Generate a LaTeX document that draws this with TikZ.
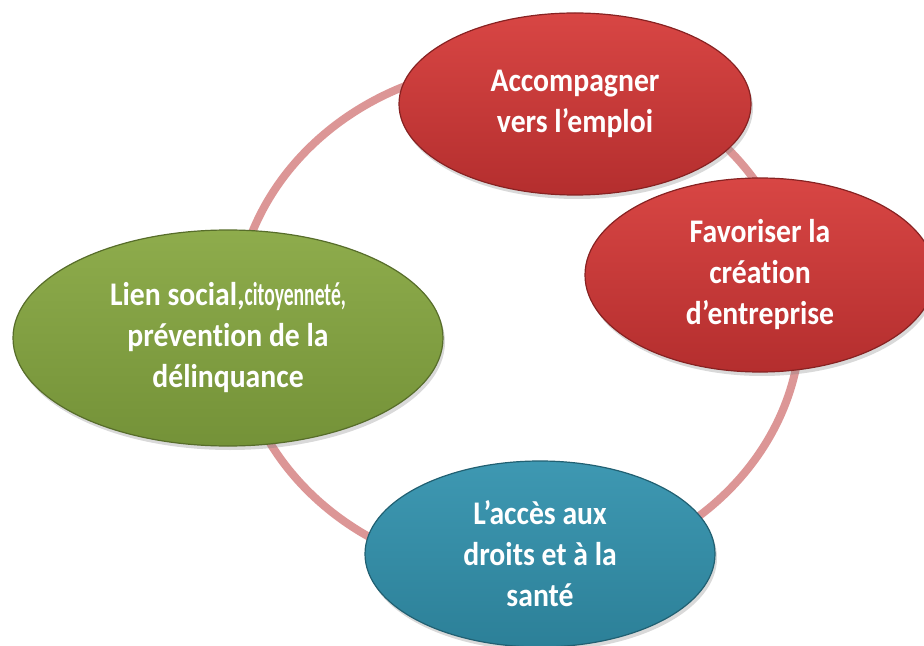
\documentclass[tikz,border=0pt]{standalone}
\usepackage{fontspec}
\setmainfont{Carlito}[Ligatures=NoCommon, FakeStretch=0.9]
\usepackage{graphicx}
\usepackage{tikz}
\usetikzlibrary{shapes.geometric,shadows}

\definecolor{ringpink}{RGB}{220,150,150}
\definecolor{redtop}{RGB}{216,70,68}
\definecolor{redbot}{RGB}{180,46,46}
\definecolor{greentop}{RGB}{142,172,76}
\definecolor{greenbot}{RGB}{116,146,56}
\definecolor{tealtop}{RGB}{62,152,178}
\definecolor{tealbot}{RGB}{44,128,152}

\begin{document}
\begin{tikzpicture}[x=0.5pt,y=-0.5pt,
    bubble/.style={ellipse, inner sep=0pt, text=white, align=center,
        font=\fontsize{16.5}{20.5}\selectfont\bfseries, line width=0.6pt,
        drop shadow={opacity=0.3, shadow xshift=1pt, shadow yshift=-2pt}},
    redbub/.style={bubble, top color=redtop, bottom color=redbot, draw=redbot!75!black},
    greenbub/.style={bubble, top color=greentop, bottom color=greenbot, draw=greenbot!75!black},
    tealbub/.style={bubble, top color=tealtop, bottom color=tealbot, draw=tealbot!75!black}]

    \useasboundingbox (0,0) rectangle (924,646);

    % ring behind the four bubbles
    \coordinate (ring) at (518,320);
    \draw[ringpink, line width=4pt] (ring) ellipse [x radius=283, y radius=255];

    \node (emploi) [redbub, minimum width=176pt, minimum height=91pt] at (575,104)
        {Accompagner\\vers l’emploi};
    \node (entreprise) [redbub, minimum width=175pt, minimum height=97pt] at (760,275)
        {Favoriser la\\création\\d’entreprise};
    \node (lien) [greenbub, minimum width=215pt, minimum height=108pt] at (228,338)
        {Lien social,\scalebox{0.66}[1]{citoyenneté,}\\prévention de la\\délinquance};
    \node (droits) [tealbub, minimum width=175pt, minimum height=93pt] at (540,554)
        {L’accès aux\\droits et à la\\santé};

\end{tikzpicture}
\end{document}
